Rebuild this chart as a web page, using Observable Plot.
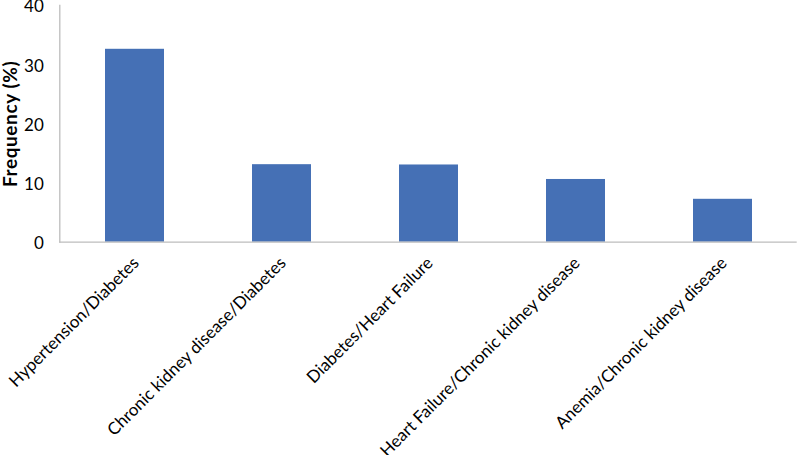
<!DOCTYPE html>
<html>
<head>
<meta charset="utf-8">
<script src="https://cdn.jsdelivr.net/npm/d3@7"></script>
<script src="https://cdn.jsdelivr.net/npm/@observablehq/plot@0.6"></script>
<style>
  html, body { margin: 0; padding: 0; background: #fff; }
  #chart { width: 797px; height: 455px; overflow: hidden; }
</style>
</head>
<body>
<div id="chart"></div>
<script>
const categories = [
  "Hypertension/Diabetes",
  "Chronic kidney disease/Diabetes",
  "Diabetes/Heart Failure",
  "Heart Failure/Chronic kidney disease",
  "Anemia/Chronic kidney disease"
];
const frequency = [32.6, 13.1, 13.05, 10.6, 7.25];
const yTicks = [0, 10, 20, 30, 40];
const yLabel = "Frequency (%)";

const data = categories.map((c, i) => ({category: c, value: frequency[i]}));

const chart = Plot.plot({
  width: 797,
  height: 455,
  marginLeft: 59.3,
  marginRight: 0.3,
  marginTop: 5,
  marginBottom: 213.3,
  style: {fontFamily: "Lato, sans-serif", fontSize: "17px", color: "#000", background: "#fff"},
  x: {domain: categories, paddingInner: 0.6, paddingOuter: 0.3},
  y: {domain: [0, 40]},
  marks: [
    Plot.barY(data, {x: "category", y: "value", fill: "#4570B5"}),
    Plot.ruleY([0], {stroke: "#bdbdbd", strokeWidth: 1.3}),
    Plot.frame({anchor: "left", stroke: "#bdbdbd", strokeWidth: 1.3}),
    Plot.axisY({ticks: yTicks, tickSize: 0, tickPadding: 16, dy: 1.5, label: null, fontSize: 17}),
    Plot.text([yLabel], {
      frameAnchor: "left", textAnchor: "middle", dx: -49, rotate: -90,
      fontWeight: "bold", fontSize: 19, fill: "#000",
      style: "letter-spacing: 0.6px"
    }),
    Plot.axisX({tickRotate: -45, tickSize: 0, tickPadding: 18, dx: 1, label: null, fontSize: 17})
  ]
});
chart.querySelectorAll("text").forEach(t => {
  if (t.textContent === yLabel) t.setAttribute("letter-spacing", "0.6");
});
document.getElementById("chart").appendChild(chart);
</script>
</body>
</html>
